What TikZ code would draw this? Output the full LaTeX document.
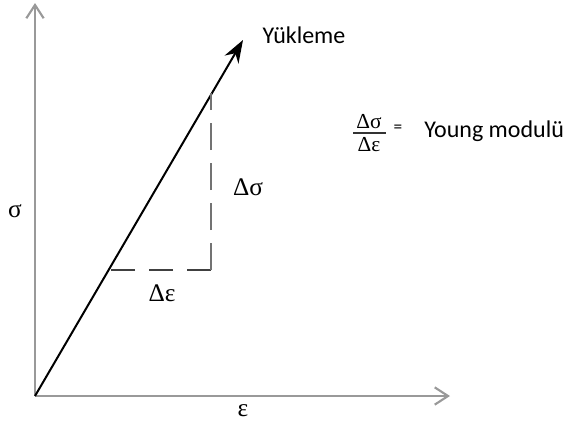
\documentclass[tikz,border=0pt]{standalone}
\usepackage{fontspec}
\setmainfont{Liberation Serif}
\newfontfamily\labfont{Carlito}
\usetikzlibrary{arrows.meta}
\begin{document}
\begin{tikzpicture}[x=0.75pt,y=-0.75pt,
  axis/.style={draw=black!40,line width=1.7pt,-{Straight Barb[length=10pt,width=13pt,line width=1.6pt]}},
  load/.style={draw=black,line width=1.5pt,-{Stealth[length=17pt,width=12pt]}},
  vdash/.style={draw=black!55,line width=2pt,dash pattern=on 20pt off 10pt},
  hdash/.style={draw=black!75,line width=2pt,dash pattern=on 18pt off 10.5pt},
  greek/.style={font=\fontsize{19}{22}\selectfont,inner sep=0pt},
  fracg/.style={font=\fontsize{16}{18}\selectfont,inner sep=0pt},
  lab/.style={font=\labfont\fontsize{18}{21}\selectfont,inner sep=0pt}]
\useasboundingbox (0,0) rectangle (568,429);
\coordinate (O) at (35,396);
\coordinate (Ytop) at (35,3);
\coordinate (Xend) at (450,396);
\coordinate (Ltip) at (243,40);
\coordinate (A) at (108,270);
\coordinate (C) at (211,270);
\coordinate (B) at (211,93);
\draw[axis] (O) -- (Ytop);
\draw[axis] (O) -- (Xend);
\draw[load] (O) -- (Ltip);
\draw[hdash] (C) -- (A);
\draw[vdash] (C) -- (B);
\node[lab] (yuk) at (304,35) {Yükleme};
\node[greek] (sig) at (15,211) {σ};
\node[greek] (eps) at (243,411) {ε};
\node[greek] (dsig) at (248,187) {Δσ};
\node[greek] (deps) at (162,293) {Δε};
\node[fracg] (num) at (369,122) {Δσ};
\node[fracg] (den) at (369,145) {Δε};
\coordinate (barL) at (353,133);
\coordinate (barR) at (386,133);
\draw[line width=0.9pt,draw=black!80] (barL) -- (barR);
\node[inner sep=0pt,font=\labfont\fontsize{13}{14}\selectfont] (eq) at (398,129) {=};
\node[lab,anchor=west] (young) at (424,131) {Young modulü};
\end{tikzpicture}
\end{document}
